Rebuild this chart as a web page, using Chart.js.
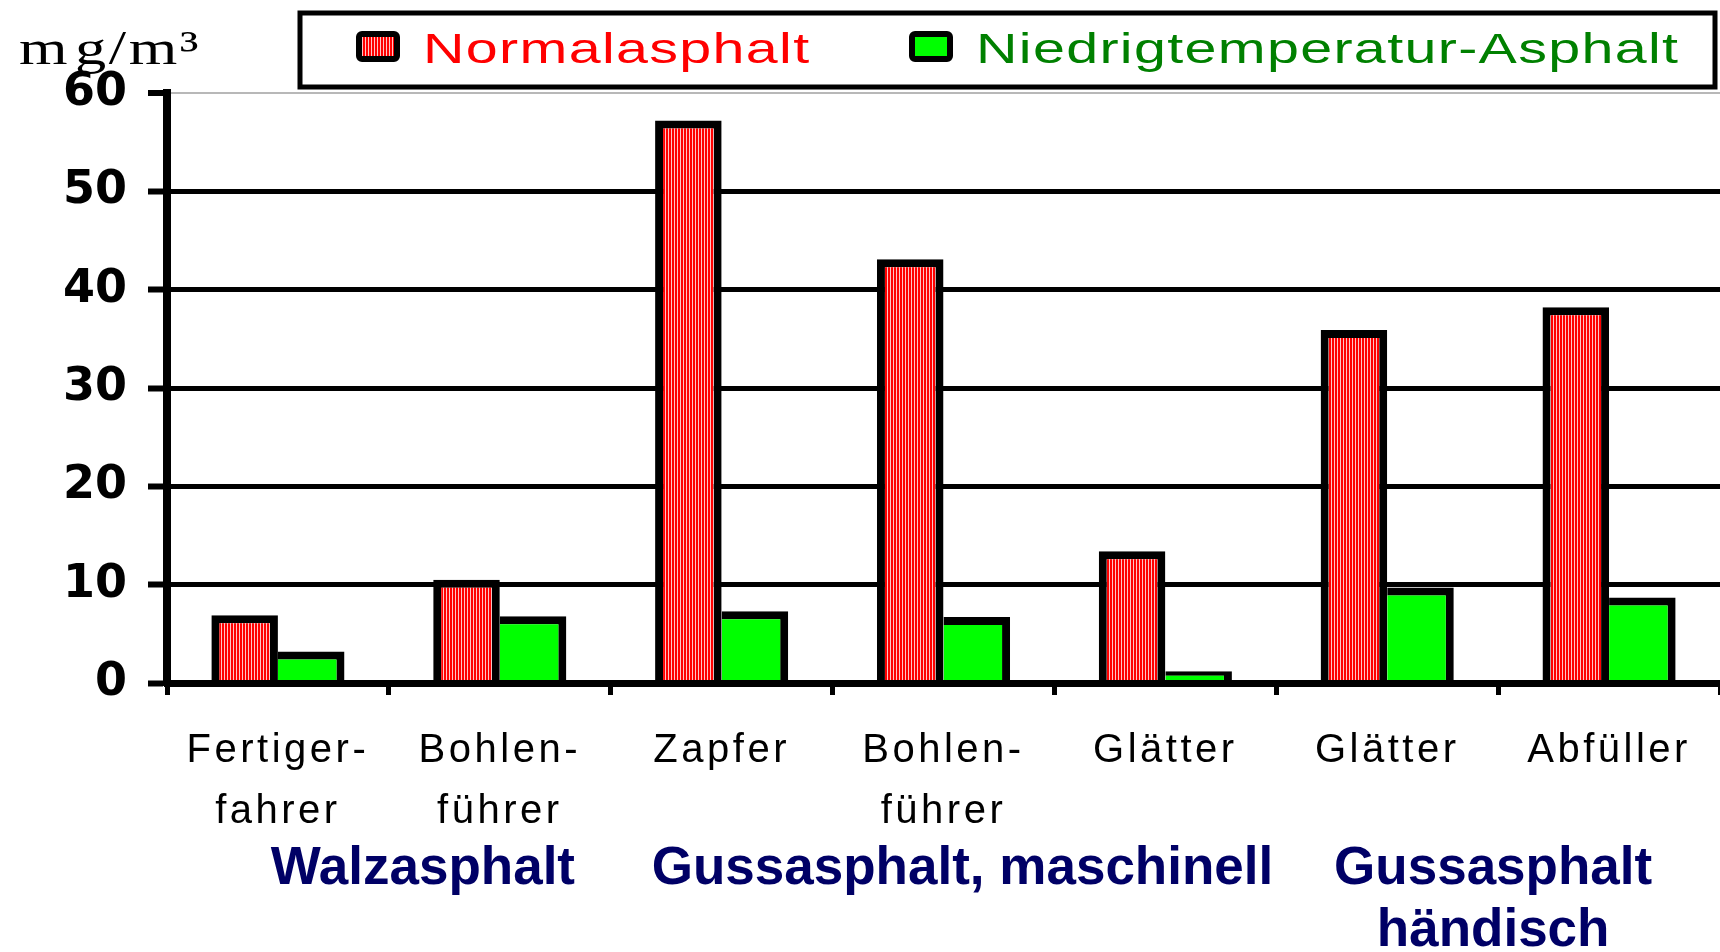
<!DOCTYPE html>
<html>
<head>
<meta charset="utf-8">
<title>Bitumen-Exposition</title>
<script src="https://cdn.jsdelivr.net/npm/chart.js@4.4.1/dist/chart.umd.min.js"></script>
<style>
    html, body { margin: 0; padding: 0; background: #fff; }
    #chart { display: block; }
</style>
</head>
<body>
<canvas id="chart" width="1720" height="952"></canvas>
<script>
// data (mg/m³)
const jobs = [
    ['Fertiger-', 'fahrer'],
    ['Bohlen-', 'führer'],
    'Zapfer',
    ['Bohlen-', 'führer'],
    'Glätter',
    'Glätter',
    'Abfüller'
];
const normalasphalt = [6.9, 10.5, 57.2, 43.1, 13.4, 35.9, 38.2];
const niedrigtemperatur = [3.2, 6.8, 7.3, 6.7, 1.2, 9.7, 8.7];
const yTicks = [0, 10, 20, 30, 40, 50, 60];

const seriesNames = ['Normalasphalt', 'Niedrigtemperatur-Asphalt'];
const groupNames = [['Walzasphalt'], ['Gussasphalt, maschinell'], ['Gussasphalt', 'händisch']];
const groupFirst = [0, 2, 5];
const groupLast = [1, 4, 6];
const unitLabel = 'mg/m³';

// layout tweaks for the group captions (px shift from the group centre)
const groupShift = [34, 19, -5];

let barChart;

function stripePattern(ctx) {
    const c = document.createElement('canvas');
    c.width = 3; c.height = 4;
    const p = c.getContext('2d');
    p.fillStyle = '#ff0000';
    p.fillRect(0, 0, 2, 4);
    p.fillStyle = '#ffc4c4';
    p.fillRect(2, 0, 1, 4);
    return ctx.createPattern(c, 'repeat');
}

// the source text is stretched sideways, so draw it scaled
function wideText(c, text, x, y, sx) {
    c.save();
    c.translate(x, y);
    c.scale(sx, 1);
    c.fillText(text, 0, 0);
    c.restore();
}

function roundBox(c, x, y, w, h, r) {
    c.beginPath();
    c.roundRect(x, y, w, h, r);
}

document.addEventListener('DOMContentLoaded', () => {
    const canvas = document.getElementById('chart');
    const ctx = canvas.getContext('2d');
    const redFill = stripePattern(ctx);

    const extras = {
        id: 'extras',
        beforeDraw(chart) {
            chart.ctx.letterSpacing = '0px';
        },
        afterDatasetsDraw(chart) {
            // category labels are drawn after the bars, with wide spacing
            chart.ctx.letterSpacing = '3.5px';
        },
        afterDraw(chart) {
            const c = chart.ctx;
            c.save();
            c.textAlign = 'left';
            c.textBaseline = 'alphabetic';

            // unit label top left ("m g/m³" look of the original)
            c.letterSpacing = '2px';
            c.font = '48px "Liberation Serif", "Times New Roman", serif';
            c.fillStyle = '#000';
            wideText(c, 'm', 19, 64, 1.3);
            wideText(c, unitLabel.slice(1), 19 + 56, 64, 1.3);

            // legend frame
            c.letterSpacing = '0px';
            c.lineWidth = 5;
            c.strokeStyle = '#000';
            c.strokeRect(300, 13, 1415, 74);

            const swatchX = [359, 912];
            const textX = [423, 976];
            const fills = [redFill, '#00ff00'];
            const colors = ['#ff0000', '#008000'];
            seriesNames.forEach((name, i) => {
                roundBox(c, swatchX[i], 34, 38, 25, 3);
                c.fillStyle = fills[i];
                c.fill();
                c.lineWidth = 6;
                c.strokeStyle = '#000';
                c.stroke();
                c.letterSpacing = '1px';
                c.font = '43px "Liberation Sans", Arial, sans-serif';
                c.fillStyle = colors[i];
                wideText(c, name, textX[i], 63, 1.335);
                c.letterSpacing = '0px';
            });

            // group captions under the categories
            const x = chart.scales.x;
            c.font = 'bold 53px "Liberation Sans", Arial, sans-serif';
            c.fillStyle = '#000066';
            c.textAlign = 'center';
            groupNames.forEach((lines, g) => {
                const cx = (x.getPixelForValue(groupFirst[g]) + x.getPixelForValue(groupLast[g])) / 2 + groupShift[g];
                lines.forEach((line, k) => {
                    c.fillText(line, cx, 884 + k * 62);
                });
            });
            c.restore();
        }
    };

    barChart = new Chart(ctx, {
        type: 'bar',
        data: {
            labels: jobs,
            datasets: [{
                label: seriesNames[0],
                data: normalasphalt,
                backgroundColor: redFill,
                borderColor: '#000',
                borderWidth: { top: 8, left: 8, right: 8, bottom: 0 }
            }, {
                label: seriesNames[1],
                data: niedrigtemperatur,
                backgroundColor: '#00ff00',
                borderColor: '#000',
                borderWidth: { top: 8, left: 0, right: 8, bottom: 0 }
            }]
        },
        options: {
            responsive: false,
            animation: false,
            devicePixelRatio: 1,
            layout: { padding: { top: 93, left: 0, right: 0, bottom: 0 } },
            datasets: {
                bar: { categoryPercentage: 0.6, barPercentage: 1.0 }
            },
            scales: {
                x: {
                    afterFit: (scale) => { scale.height = 952 - 683; },
                    border: { display: true, color: '#000', width: 7, z: 1 },
                    grid: {
                        offset: true,
                        drawOnChartArea: false,
                        drawTicks: true,
                        tickLength: 12,
                        tickWidth: 5,
                        tickColor: '#000'
                    },
                    ticks: {
                        z: 1,
                        color: '#000',
                        autoSkip: false,
                        maxRotation: 0,
                        padding: 25,
                        font: { family: '"Liberation Sans", Arial, sans-serif', size: 40, lineHeight: 1.525 }
                    }
                },
                y: {
                    min: 0,
                    max: 60,
                    afterFit: (scale) => { scale.width = 167; },
                    afterBuildTicks: (scale) => { scale.ticks = yTicks.map(v => ({ value: v })); },
                    border: { display: true, color: '#000', width: 8 },
                    grid: {
                        color: (c) => c.tick && c.tick.value === 60 ? '#b8b8b8' : '#000',
                        lineWidth: (c) => c.tick && c.tick.value === 60 ? 2 : 5,
                        tickColor: '#000',
                        tickWidth: 6,
                        tickLength: 19
                    },
                    ticks: {
                        color: '#000',
                        padding: 21,
                        font: { family: '"DejaVu Sans", sans-serif', size: 46, weight: 'bold' }
                    }
                }
            },
            plugins: {
                legend: { display: false },
                title: { display: false },
                tooltip: { enabled: false }
            }
        },
        plugins: [extras]
    });
});
</script>
</body>
</html>
